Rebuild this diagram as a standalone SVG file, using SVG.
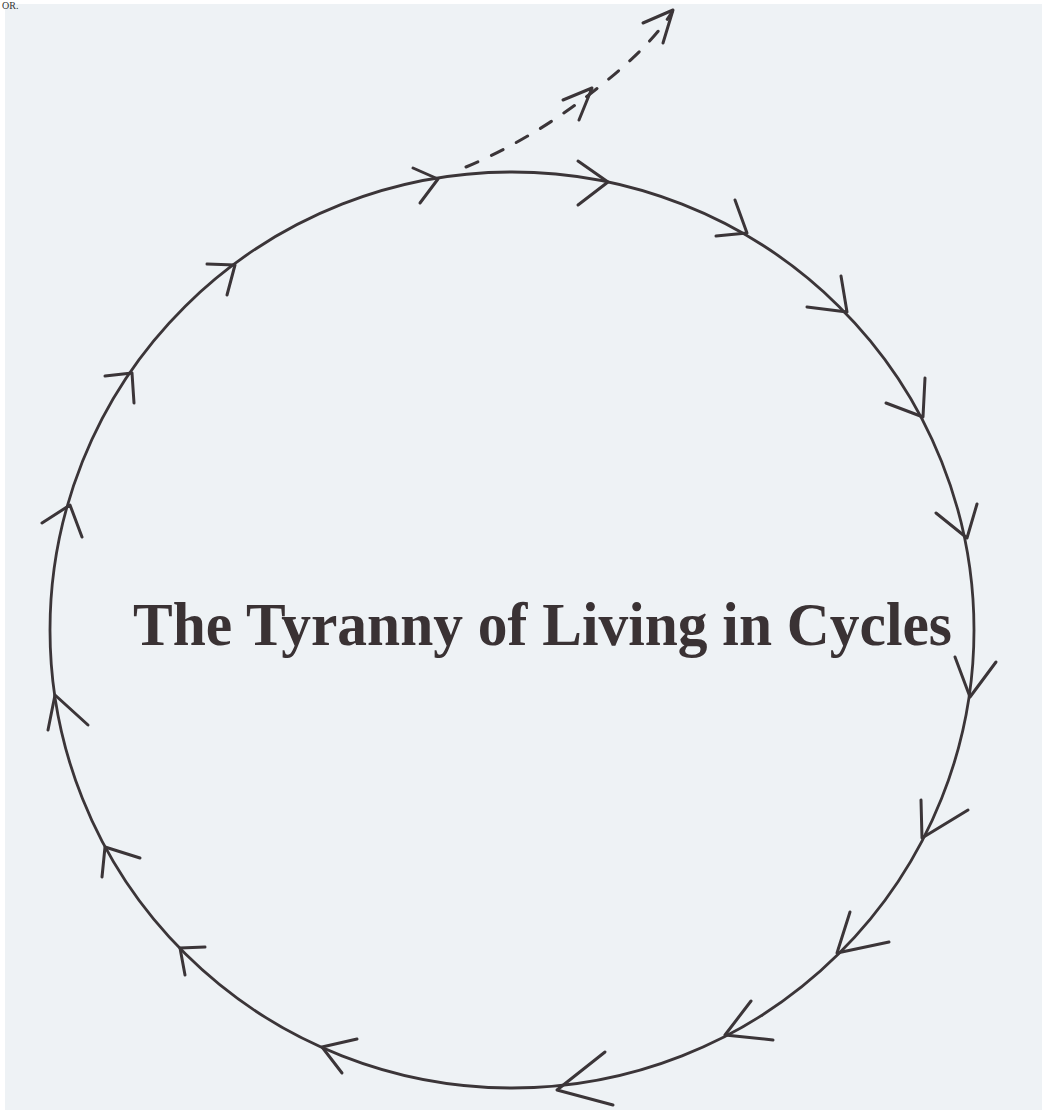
<svg xmlns="http://www.w3.org/2000/svg" width="1045" height="1114" viewBox="0 0 1045 1114">
<style>
.ln{fill:none;stroke:#3b3538;stroke-width:2.8;stroke-linecap:round;stroke-linejoin:round}
.ar{fill:none;stroke:#3b3538;stroke-width:3;stroke-linecap:round;stroke-linejoin:round}
.dash{fill:none;stroke:#3b3538;stroke-width:3;stroke-linecap:round;stroke-dasharray:13 15}
.title{font-family:"Liberation Serif","Times New Roman",serif;font-weight:bold;fill:#3a3234}
</style>
<rect x="0" y="0" width="1045" height="1114" fill="#ffffff"/>
<rect x="5" y="4" width="1037" height="1106" fill="#eef2f5"/>
<text x="2" y="9" font-family="Liberation Serif,serif" font-size="10" fill="#333">OR.</text>
<g id="cycle">
<ellipse class="ln" cx="512" cy="630" rx="462" ry="458"/>
</g>
<g id="connectors">
<path class="dash" d="M466,167 Q530,140 590,94 T672,12"/>
<path class="ar" d="M563,100 L592,88 L579,120"/>
<path class="ar" d="M643,23 L673,10 L663,43"/>
<path class="ar" d="M413,168 L438,179 L420,203"/>
<path class="ar" d="M578,161 L608,182 L578,205"/>
<path class="ar" d="M735,200 L747,233 L716,236"/>
<path class="ar" d="M841,276 L847,312 L807,307"/>
<path class="ar" d="M925,378 L923,417 L886,403"/>
<path class="ar" d="M936,513 L967,538 L977,504"/>
<path class="ar" d="M955,657 L970,697 L996,662"/>
<path class="ar" d="M921,800 L922,838 L968,810"/>
<path class="ar" d="M850,912 L837,953 L889,942"/>
<path class="ar" d="M751,1001 L725,1035 L773,1040"/>
<path class="ar" d="M605,1052 L557,1090 L613,1105"/>
<path class="ar" d="M357,1039 L322,1047 L342,1073"/>
<path class="ar" d="M205,947 L180,948 L185,975"/>
<path class="ar" d="M140,858 L105,847 L102,877"/>
<path class="ar" d="M88,725 L55,695 L48,730"/>
<path class="ar" d="M42,523 L70,505 L82,537"/>
<path class="ar" d="M105,376 L132,373 L134,403"/>
<path class="ar" d="M207,264 L235,265 L227,295"/>
</g>
<g id="label">
<text class="title" x="133" y="645" font-size="62" textLength="819" lengthAdjust="spacingAndGlyphs">The Tyranny of Living in Cycles</text>
</g>
</svg>
